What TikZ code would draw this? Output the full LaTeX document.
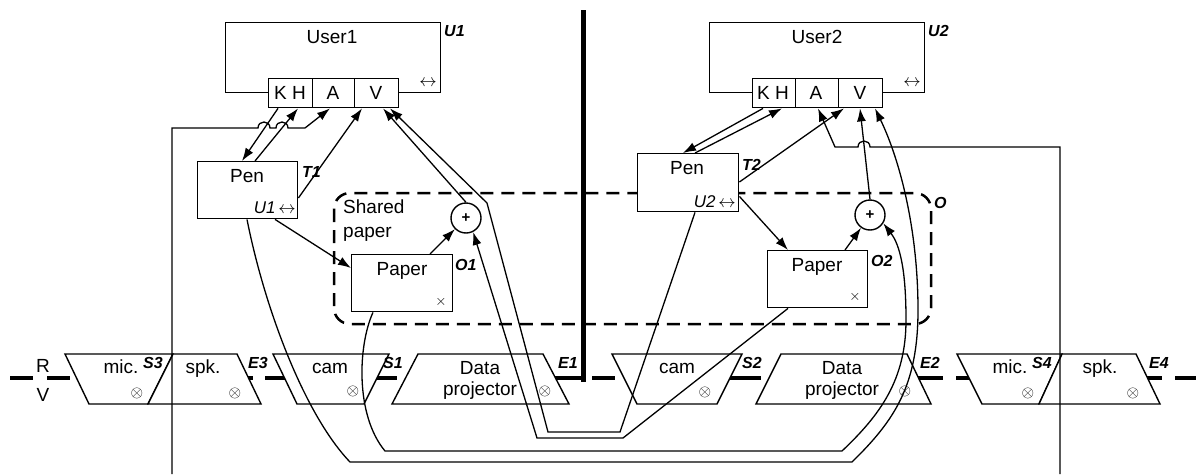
\documentclass[tikz,border=0pt]{standalone}
\usepackage{fontspec}
\setmainfont{Liberation Sans}
\usetikzlibrary{arrows.meta,calc}
\newcommand{\lrsym}{\scalebox{1.45}{$\leftrightarrow$}}
\newcommand{\otsym}{\scalebox{1.35}{$\otimes$}}
\newcommand{\xsym}{\scalebox{1.2}{$\times$}}
\begin{document}
\begin{tikzpicture}[x=1pt,y=-1pt,
  box/.style={draw,line width=1.4pt,fill=white,inner sep=0pt,rectangle,anchor=north west},
  conn/.style={line width=1.3pt},
  arr/.style={conn,-{Latex[length=13pt,width=9pt]}},
  tx/.style={font=\fontsize{19}{21}\selectfont,inner sep=0pt,anchor=base},
  lb/.style={font=\fontsize{16}{16}\selectfont\bfseries\itshape,inner sep=0pt,anchor=base west},
  sym/.style={font=\fontsize{12}{12}\selectfont,inner sep=0pt},
  trap/.style={draw,line width=1.4pt,fill=white,line join=miter},
  wire/.style={line width=4pt},
  plus/.style={draw,circle,line width=1.4pt,fill=white,minimum size=30pt,inner sep=0pt,font=\fontsize{15}{15}\selectfont\bfseries},
  obox/.style={line width=2.5pt,dash pattern=on 13pt off 8pt,rounded corners=16pt},
]
\useasboundingbox (0,0) rectangle (1196,474);

% wire dashes
\foreach \a/\b in {10/33,47/70,245/253,265/290,370/397,550/582,592/615,725/761,915/943,956/975,1145/1162,1175/1196}
  \draw[wire] (\a,378) -- (\b,378);

% thick separator
\draw[line width=5pt] (583,10) -- (583,382);

% shared object box
\draw[obox] (334,193) rectangle (931,324);

% trapezoids
\draw[trap] (65,354) -- (173,354) -- (148,404) -- (89,404) -- cycle;
\draw[trap] (173,354) -- (237,354) -- (261,404) -- (148,404) -- cycle;
\draw[trap] (273,354) -- (389,354) -- (364,404) -- (297,404) -- cycle;
\draw[trap] (418,354) -- (543,354) -- (569,404) -- (392,404) -- cycle;
\draw[trap] (612,354) -- (742,354) -- (717,404) -- (637,404) -- cycle;
\draw[trap] (781,354) -- (907,354) -- (931,404) -- (756,404) -- cycle;
\draw[trap] (957,354) -- (1062,354) -- (1039,404) -- (982,404) -- cycle;
\draw[trap] (1062,354) -- (1136,354) -- (1160,404) -- (1039,404) -- cycle;

% users
\node[box,minimum width=215pt,minimum height=70pt] (user1) at (225,22) {};
\node[box,minimum width=44pt,minimum height=29pt] (kh1) at (268,78) {};
\node[box,minimum width=42pt,minimum height=29pt] (a1) at (312,78) {};
\node[box,minimum width=44pt,minimum height=29pt] (v1) at (354,78) {};
\node[box,minimum width=215pt,minimum height=70pt] (user2) at (709,22) {};
\node[box,minimum width=43pt,minimum height=29pt] (kh2) at (752,78) {};
\node[box,minimum width=43pt,minimum height=29pt] (a2) at (795,78) {};
\node[box,minimum width=44pt,minimum height=29pt] (v2) at (838,78) {};

% pens and papers
\node[box,minimum width=100pt,minimum height=57pt] (pen1) at (197,161) {};
\node[box,minimum width=101pt,minimum height=58pt] (pen2) at (637,153) {};
\node[box,minimum width=101pt,minimum height=57pt] (paper1) at (351,254) {};
\node[box,minimum width=100pt,minimum height=57pt] (paper2) at (767,250) {};
\node[plus] (plus1) at (466,218) {+};
\node[plus] (plus2) at (870,215) {+};

% feed lines
\coordinate (feedL) at (172,474);
\coordinate (feedR) at (1060,474);

% connectors
\draw[arr] ($(kh1.south west)+(10,0)$) -- ($(pen1.north west)+(45,0)$);
\draw[arr] ($(pen1.north west)+(58,0)$) -- ($(kh1.south west)+(30,0)$);
\draw[arr] (feedL) -- (172,128) -- (258,128) .. controls (258,120) and (270,120) .. (270,128)
  -- (276,128) .. controls (276,120) and (288,120) .. (288,128) -- (305,128) -- ($(a1.south west)+(18,0)$);
\draw[arr] ($(pen1.north east)+(0,37)$) -- ($(v1.south west)+(8,0)$);
\draw[arr] (plus1.north) -- ($(v1.south west)+(29,0)$);
\draw[arr] ($(pen2.south west)+(58,0)$) -- (620,432) -- (548,432) -- (487,203) -- ($(v1.south west)+(36,0)$);
\draw[arr] ($(paper2.south west)+(21,0)$) -- (623,438) -- (537,438) -- (plus1.-63);
\draw[arr] ($(paper1.south west)+(22,0)$) .. controls (358,345) and (355,415) .. (385,451) -- (842,451)
  .. controls (880,415) and (906,380) .. (906,320) .. controls (906,270) and (900,245) .. (plus2.-32);
\draw[arr] ($(pen1.south west)+(50,0)$) .. controls (265,310) and (305,415) .. (350,462) -- (852,462)
  .. controls (895,420) and (918,385) .. (918,310) .. controls (918,230) and (900,160) .. ($(v2.south west)+(37,0)$);
\draw[arr] ($(pen1.south west)+(78,0)$) -- ($(paper1.north west)+(0,14)$);
\draw[arr] ($(paper1.north west)+(79,0)$) -- (plus1.-135);
\draw[arr] ($(pen2.south east)+(0,-16)$) -- ($(paper2.north west)+(21,0)$);
\draw[arr] ($(paper2.north west)+(78,0)$) -- (plus2.-125);
\draw[arr] (plus2.north) -- ($(v2.south west)+(22,0)$);
\draw[arr] ($(kh2.south west)+(11,0)$) -- ($(pen2.north west)+(46,0)$);
\draw[arr] ($(pen2.north west)+(58,0)$) -- ($(kh2.south west)+(30,0)$);
\draw[arr] ($(pen2.north east)+(0,29)$) -- ($(v2.south west)+(6,0)$);
\draw[arr] (feedR) -- (1060,147) -- (870,147) .. controls (870,139) and (858,139) .. (858,147)
  -- (835,147) -- ($(a2.south west)+(23,0)$);

% texts
\node[tx] (tU1) at (332,43) {User1};
\node[tx] (tU2) at (817,43) {User2};
\node[tx] (tkh1) at (290,99) {K H};
\node[tx] (ta1) at (333,99) {A};
\node[tx] (tv1) at (376,99) {V};
\node[tx] (tkh2) at (773,99) {K H};
\node[tx] (ta2) at (816,99) {A};
\node[tx] (tv2) at (860,99) {V};
\node[lb] (lU1) at (444,36) {U1};
\node[lb] (lU2) at (928,36) {U2};
\node[sym] (arU1) at (428,83) {\lrsym};
\node[sym] (arU2) at (912,83) {\lrsym};
\node[tx] (tpen1) at (247,182) {Pen};
\node[tx] (tpen2) at (687,174) {Pen};
\node[font=\fontsize{17}{17}\selectfont,inner sep=0pt,anchor=base east] (upen1) at (296,213) {\itshape U1\,{\fontsize{12}{12}\selectfont\lrsym}};
\node[font=\fontsize{17}{17}\selectfont,inner sep=0pt,anchor=base east] (upen2) at (736,207) {\itshape U2\,{\fontsize{12}{12}\selectfont\lrsym}};
\node[lb] (lT1) at (302,177) {T1};
\node[lb] (lT2) at (742,170) {T2};
\node[tx] (tpap1) at (402,275) {Paper};
\node[tx] (tpap2) at (817,271) {Paper};
\node[sym] (x1) at (441,302) {\xsym};
\node[sym] (x2) at (855,297) {\xsym};
\node[lb] (lO1) at (455,270) {O1};
\node[lb] (lO2) at (871,266) {O2};
\node[lb] (lO) at (934,208) {O};
\node[tx,anchor=base west] (tsh1) at (343,213) {Shared};
\node[tx,anchor=base west] (tsh2) at (343,237) {paper};
\node[tx] (tR) at (43,372) {R};
\node[tx] (tV) at (43,401) {V};
\node[tx] (tmic1) at (121,373) {mic.};
\node[tx] (tspk1) at (203,373) {spk.};
\node[tx] (tcam1) at (330,373) {cam};
\node[tx] (tdp1a) at (480,374) {Data};
\node[tx] (tdp1b) at (480,395) {projector};
\node[tx] (tcam2) at (677,373) {cam};
\node[tx] (tdp2a) at (842,374) {Data};
\node[tx] (tdp2b) at (842,395) {projector};
\node[tx] (tmic2) at (1010,373) {mic.};
\node[tx] (tspk2) at (1100,373) {spk.};
\node[lb] (lS3) at (143,368) {S3};
\node[lb] (lE3) at (248,368) {E3};
\node[lb] (lS1) at (383,368) {S1};
\node[lb] (lE1) at (558,368) {E1};
\node[lb] (lS2) at (742,368) {S2};
\node[lb] (lE2) at (920,368) {E2};
\node[lb] (lS4) at (1032,368) {S4};
\node[lb] (lE4) at (1149,368) {E4};
\foreach \n/\x/\y in {o1/137/393,o2/235/393,o3/353/391,o4/545/391,o5/705/392,o6/905/391,o7/1028/393,o8/1133/393}
  \node[sym] (\n) at (\x,\y) {\otsym};
\end{tikzpicture}
\end{document}
